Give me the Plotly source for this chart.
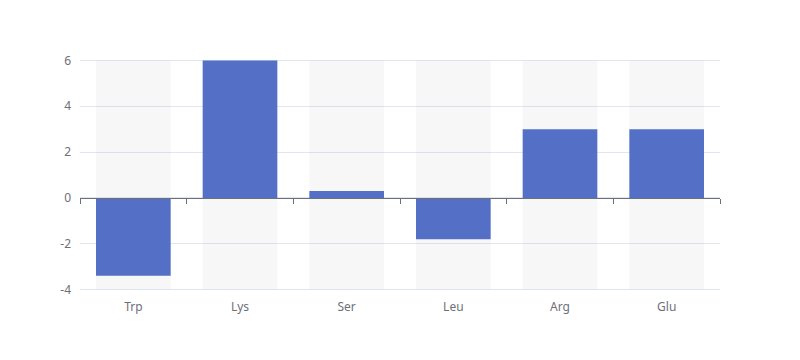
import plotly.graph_objects as go

categories = ["Trp", "Lys", "Ser", "Leu", "Arg", "Glu"]
values = [-3.4, 6, 0.3, -1.8, 3, 3]
y_ticks = [-4, -2, 0, 2, 4, 6]
y_tick_labels = ["-4", "-2", "0", "2", "4", "6"]
y_min, y_max = -4, 6
pad = 0.06

font_color = "#6E7079"
fig = go.Figure()

# background bars (full range)
fig.add_trace(go.Bar(
    x=categories, y=[y_max - y_min] * len(categories), base=[y_min] * len(categories),
    marker=dict(color="rgba(180,180,180,0.11)", line=dict(width=0)),
    width=0.7, hoverinfo="skip", showlegend=False,
))
# data bars
fig.add_trace(go.Bar(
    x=categories, y=values,
    marker=dict(color="#5470C6", line=dict(width=0)),
    width=0.7, showlegend=False,
))
# helper trace for the zero axis line with boundary ticks
fig.add_trace(go.Scatter(x=[None], y=[None], xaxis="x2", yaxis="y",
                         mode="markers", showlegend=False, hoverinfo="skip"))

zero_pos = (0 - (y_min - pad)) / ((y_max + pad) - (y_min - pad))

fig.update_layout(
    width=800, height=360,
    margin=dict(l=72, r=88, t=51, b=77),
    paper_bgcolor="white", plot_bgcolor="white",
    barmode="overlay",
    font=dict(family="Noto Sans, DejaVu Sans, sans-serif", size=12, color=font_color),
    xaxis=dict(
        type="category", categoryarray=categories, range=[-0.5, len(categories) - 0.5],
        showline=False, showgrid=False, zeroline=False,
        ticks="outside", ticklen=5, tickcolor="rgba(0,0,0,0)",
        tickfont=dict(size=12, color=font_color),
    ),
    xaxis2=dict(
        overlaying="x", anchor="free", position=zero_pos,
        range=[-0.5, len(categories) - 0.5],
        tickmode="array", tickvals=[i - 0.5 for i in range(len(categories) + 1)],
        showticklabels=False, ticks="outside", ticklen=5, tickcolor=font_color,
        showline=True, linecolor=font_color, linewidth=1,
        showgrid=False, zeroline=False,
    ),
    yaxis=dict(
        range=[y_min - pad, y_max + pad], tickmode="array", tickvals=y_ticks, ticktext=y_tick_labels,
        showgrid=True, gridcolor="#E0E6F1", gridwidth=1,
        zeroline=False, showline=False,
        ticks="", ticklabelstandoff=8,
        tickfont=dict(size=12, color=font_color),
    ),
)

fig.write_html("out.html")
